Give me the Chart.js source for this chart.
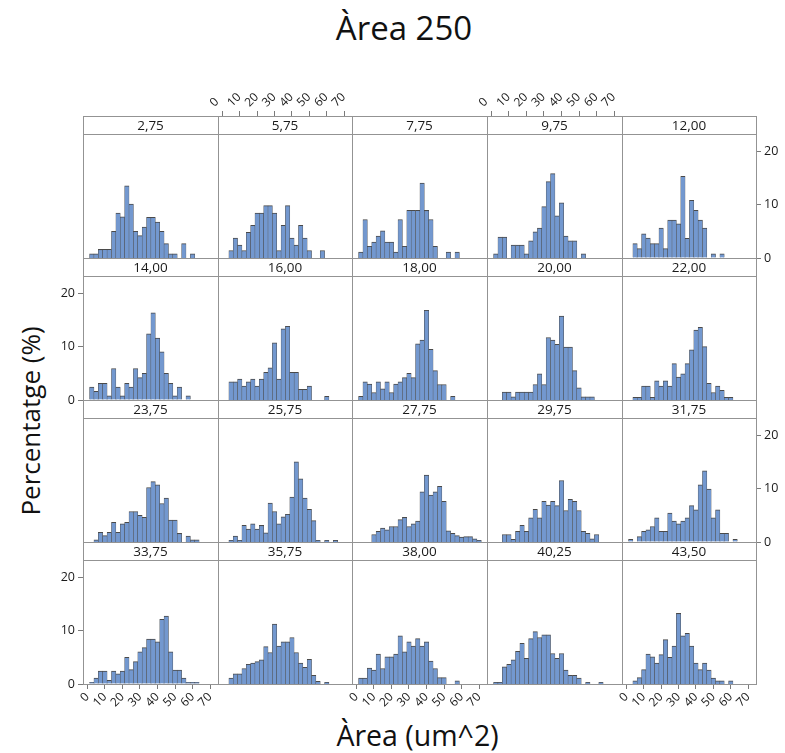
<!DOCTYPE html>
<html>
<head>
<meta charset="utf-8">
<script src="https://cdn.jsdelivr.net/npm/chart.js@4.4.1/dist/chart.umd.min.js"></script>
<style>
    body { margin: 0; width: 785px; height: 753px; background: #fff; position: relative; overflow: hidden; font-family: 'Open Sans', sans-serif; color: #111; }
    .panel { position: absolute; }
    #title { position: absolute; left: 0; width: 808px; top: 9px; line-height: 38px; text-align: center; font-size: 33px; }
    #xtitle { position: absolute; left: 0; width: 835px; top: 719px; line-height: 33px; text-align: center; font-size: 28.5px; }
    #ytitle { position: absolute; left: 30px; top: 421px; width: 280px; line-height: 32px; text-align: center; font-size: 26px;
              transform: translate(-50%, -50%) rotate(-90deg); }
</style>
</head>
<body>
<div id="title">Àrea 250</div>
<div id="ytitle">Percentatge (%)</div>
<div id="xtitle">Àrea (um^2)</div>
<div id="grid"></div>
<script>
// Panel labels, row by row
const panelLabels = [
    '2,75', '5,75', '7,75', '9,75', '12,00',
    '14,00', '16,00', '18,00', '20,00', '22,00',
    '23,75', '25,75', '27,75', '29,75', '31,75',
    '33,75', '35,75', '38,00', '40,25', '43,50'
];

// Histogram bins: bin k is centred on k * binWidth
const binWidth = 2.5;
const xTickValues = [0, 10, 20, 30, 40, 50, 60, 70];
const yTickValues = [0, 10, 20];

const pct2_75  = [0, 0.8, 0.8, 1.6, 1.6, 1.6, 5.0, 8.4, 7.7, 13.5, 10.1, 5.0, 4.2, 5.8, 7.6, 7.6, 6.7, 5.0, 2.7, 0.8, 0.8, 0, 2.7, 0, 0.8];
const pct5_75  = [0, 0, 1.4, 3.75, 2.4, 1.4, 4.8, 6.1, 8.4, 8.4, 9.8, 9.8, 8.4, 1.4, 6.1, 9.8, 3.75, 2.4, 6.1, 3.75, 1.4, 0, 0, 1.4];
const pct7_75  = [0, 1.1, 7.2, 2.2, 3.0, 4.1, 5.1, 3.0, 3.0, 1.1, 7.2, 2.2, 8.9, 8.9, 8.9, 14.0, 8.9, 7.2, 2.2, 0, 0, 1.1, 0, 1.1];
const pct9_75  = [0, 0.8, 3.9, 3.9, 0, 2.4, 2.4, 2.4, 0.8, 3.2, 4.9, 5.6, 9.6, 14.3, 15.8, 7.9, 10.3, 4.1, 3.2, 3.2, 0, 0.8];
const pct12_00 = [0, 0, 2.7, 1.75, 4.5, 3.75, 2.7, 2.7, 5.6, 1.75, 7.1, 7.1, 6.4, 15.3, 3.7, 10.8, 8.9, 7.1, 5.6, 0, 0.8, 0, 0.8];
const pct14_00 = [0, 2.4, 1.6, 3.1, 3.1, 0.8, 5.9, 2.4, 0.8, 3.1, 2.4, 5.9, 4.2, 5.0, 12.4, 16.3, 11.6, 9.0, 5.0, 3.1, 0.8, 2.4, 0, 0.8];
const pct16_00 = [0, 0, 3.4, 3.4, 3.9, 2.6, 3.4, 3.9, 2.6, 3.9, 5.2, 6.0, 10.7, 3.9, 13.3, 13.8, 5.2, 5.2, 2.0, 2.0, 2.6, 0, 0, 0, 0.7];
const pct18_00 = [0, 0.7, 3.4, 3.0, 1.4, 3.4, 2.1, 3.4, 1.4, 3.0, 3.4, 4.2, 5.0, 4.2, 10.5, 11.2, 16.8, 9.5, 5.5, 2.9, 2.9, 0, 0.7];
const pct20_00 = [0, 0, 0, 1.5, 1.5, 0.6, 1.5, 1.5, 1.5, 1.5, 2.9, 4.9, 2.9, 11.7, 11.2, 10.4, 15.7, 9.9, 9.9, 5.5, 2.3, 0.6, 0.6, 0.6];
const pct22_00 = [0, 0, 0.5, 0.5, 2.6, 2.6, 0.5, 3.6, 2.6, 3.6, 2.6, 6.8, 4.3, 4.9, 6.8, 9.4, 13.1, 13.6, 10.0, 3.1, 1.4, 2.6, 1.8, 0.5, 0.5];
const pct23_75 = [0, 0, 0.4, 1.8, 1.2, 1.8, 3.7, 1.8, 3.4, 3.7, 5.7, 5.7, 5.0, 4.6, 10.2, 11.3, 10.7, 7.2, 8.2, 4.1, 4.1, 1.6, 0, 1.1, 0.4, 0.4];
const pct25_75 = [0, 0, 0.3, 1.1, 0.3, 3.1, 2.4, 3.4, 2.4, 3.1, 1.7, 7.3, 5.7, 3.4, 4.7, 5.2, 8.4, 15.0, 11.8, 8.2, 6.1, 4.0, 0.3, 0, 0.3, 0, 0.3];
const pct27_75 = [0, 0, 0, 0, 1.4, 2.0, 2.6, 2.3, 2.9, 2.9, 4.2, 4.6, 2.9, 3.4, 3.9, 9.4, 12.5, 8.8, 9.4, 10.4, 7.6, 2.1, 1.6, 1.2, 0.9, 1.0, 1.0, 0.6, 0.3];
const pct29_75 = [0, 0, 0, 1.4, 1.4, 0.5, 2.0, 3.1, 2.0, 4.5, 6.1, 4.5, 7.6, 6.9, 7.6, 6.8, 11.5, 5.9, 8.0, 7.6, 5.9, 2.0, 1.6, 0.6, 1.4];
const pct31_75 = [0, 0.5, 0, 1.0, 2.0, 2.3, 2.9, 4.5, 2.0, 2.0, 5.4, 3.9, 3.4, 3.9, 4.5, 6.8, 6.0, 10.7, 13.3, 9.9, 4.5, 6.0, 1.6, 1.6, 0, 0.5];
const pct33_75 = [0, 0.3, 1.1, 2.4, 2.4, 0.7, 2.4, 1.9, 2.4, 5.0, 2.7, 4.2, 6.0, 6.8, 8.4, 8.4, 7.9, 12.1, 12.7, 6.0, 2.6, 2.6, 1.1, 0.3, 0.3, 0.3];
const pct35_75 = [0, 0, 1.1, 1.9, 1.9, 2.9, 3.7, 3.9, 4.2, 4.5, 7.0, 5.9, 11.2, 7.1, 7.9, 7.9, 8.7, 5.9, 3.9, 3.1, 4.6, 1.6, 0.5, 0, 0.3];
const pct38_00 = [0, 1.1, 1.1, 3.0, 2.6, 5.6, 2.9, 5.1, 5.1, 5.6, 9.0, 6.0, 7.9, 7.1, 8.5, 7.1, 7.9, 4.3, 2.9, 1.2, 1.2, 0, 0, 0.6];
const pct40_25 = [0, 0.3, 0.3, 3.2, 3.7, 4.5, 6.1, 7.6, 4.8, 8.5, 9.8, 8.7, 9.2, 9.2, 5.7, 4.8, 5.7, 2.6, 1.6, 1.6, 1.1, 0, 0.3, 0, 0, 0.3];
const pct43_50 = [0, 0, 0.6, 1.2, 2.7, 5.6, 5.1, 3.9, 5.5, 8.3, 5.0, 7.1, 13.2, 9.0, 9.5, 7.1, 3.9, 2.7, 3.9, 2.6, 1.1, 0.6, 0.6, 0, 0.6];

const panelData = [
    pct2_75, pct5_75, pct7_75, pct9_75, pct12_00,
    pct14_00, pct16_00, pct18_00, pct20_00, pct22_00,
    pct23_75, pct25_75, pct27_75, pct29_75, pct31_75,
    pct33_75, pct35_75, pct38_00, pct40_25, pct43_50
];

// Page layout of the panel grid
const colEdges = [83, 218, 352, 487, 622, 756];
const rowTops = [116, 258, 400, 542];
const stripH = 18;
const plotH = 124;
const margin = 50;

const colors = {
    bar: '#7398cf',
    barBorder: '#4a4a4a',
    frame: '#939393',
    tick: '#7a7a7a',
    text: '#1a1a1a'
};

Chart.defaults.font.family = "'Open Sans', sans-serif";
Chart.defaults.color = colors.text;

// Draws the panel frame and the strip with the panel label
const panelFrame = {
    id: 'panelFrame',
    afterDraw(chart, args, opts) {
        const { ctx, chartArea: a } = chart;
        ctx.save();
        ctx.strokeStyle = colors.frame;
        ctx.lineWidth = 1;
        ctx.strokeRect(a.left + 0.5, a.top - stripH + 0.5, a.right - a.left, stripH);
        ctx.strokeRect(a.left + 0.5, a.top + 0.5, a.right - a.left, a.bottom - a.top);
        ctx.fillStyle = colors.text;
        ctx.font = "13.5px 'Open Sans', sans-serif";
        ctx.textAlign = 'center';
        ctx.textBaseline = 'middle';
        ctx.fillText(opts.label, (a.left + a.right) / 2, a.top - stripH / 2 + 1);
        ctx.restore();
    }
};

const setTicks = values => scale => {
    scale.ticks = values.map(v => ({ value: v }));
};

const makePanel = (r, c) => {
    const idx = r * 5 + c;
    const cw = colEdges[c + 1] - colEdges[c];
    const showTop = r === 0 && (c === 1 || c === 3);
    const showBottom = r === 3 && c % 2 === 0;
    const showRight = r % 2 === 0 && c === 4;
    const showLeft = r % 2 === 1 && c === 0;

    const wrap = document.createElement('div');
    wrap.className = 'panel';
    wrap.style.left = (colEdges[c] - margin) + 'px';
    wrap.style.top = (rowTops[r] - margin) + 'px';
    const canvas = document.createElement('canvas');
    canvas.width = cw + 2 * margin;
    canvas.height = stripH + plotH + 2 * margin;
    wrap.appendChild(canvas);
    document.getElementById('grid').appendChild(wrap);

    const xFont = { size: 12 };
    const yFont = { size: 12.5 };

    return new Chart(canvas.getContext('2d'), {
        type: 'bar',
        data: {
            datasets: [{
                data: panelData[idx].map((v, k) => ({ x: k * binWidth, y: v > 0 ? v : null })),
                backgroundColor: colors.bar,
                borderColor: colors.barBorder,
                borderWidth: { top: 1, left: 0.5, right: 0.5, bottom: 0 },
                barPercentage: 1,
                categoryPercentage: 1
            }]
        },
        options: {
            responsive: false,
            animation: false,
            devicePixelRatio: 1,
            layout: {
                padding: {
                    left: showLeft ? 0 : margin,
                    right: showRight ? 0 : margin,
                    top: showTop ? 0 : margin + stripH,
                    bottom: showBottom ? 0 : margin
                }
            },
            scales: {
                x: {
                    type: 'linear',
                    offset: false,
                    position: showTop ? 'top' : 'bottom',
                    display: showTop || showBottom,
                    min: -2.5,
                    max: 74.5,
                    afterBuildTicks: setTicks(xTickValues),
                    afterFit: s => {
                        if (showTop) s.height = margin + stripH;
                        if (showBottom) s.height = margin;
                    },
                    border: { display: false },
                    grid: {
                        offset: false,
                        drawOnChartArea: false,
                        tickLength: showTop ? stripH + 5 : 5,
                        tickBorderDash: showTop ? [5, 80] : [],
                        tickColor: colors.tick
                    },
                    ticks: { minRotation: 45, maxRotation: 45, autoSkip: false, padding: 1, font: xFont }
                },
                y: {
                    position: r % 2 === 0 ? 'right' : 'left',
                    display: showLeft || showRight,
                    min: 0,
                    max: 23.2,
                    afterBuildTicks: setTicks(yTickValues),
                    afterFit: s => {
                        if (showLeft || showRight) s.width = margin;
                    },
                    border: { display: false },
                    grid: { drawOnChartArea: false, tickLength: 5, tickColor: colors.tick },
                    ticks: { padding: 3, font: yFont }
                }
            },
            plugins: {
                legend: { display: false },
                tooltip: { enabled: false },
                panelFrame: { label: panelLabels[idx] }
            }
        },
        plugins: [panelFrame]
    });
};

for (let r = 0; r < 4; r++) {
    for (let c = 0; c < 5; c++) {
        makePanel(r, c);
    }
}
</script>
</body>
</html>
